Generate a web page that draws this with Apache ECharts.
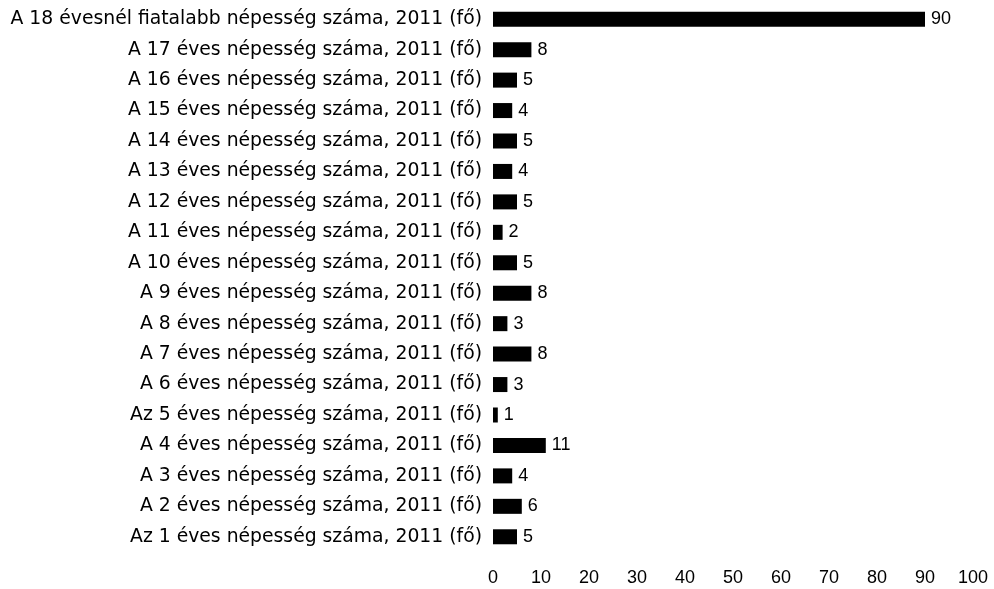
<!DOCTYPE html>
<html>
<head>
<meta charset="utf-8">
<script src="https://cdn.jsdelivr.net/npm/echarts@6/dist/echarts.min.js"></script>
<style>
  html, body { margin: 0; padding: 0; background: #fff; }
  #chart { width: 994px; height: 589px; }
</style>
</head>
<body>
<div id="chart"></div>
<script>
// Population of children by age, 2011 (persons)
const categories = [
  'A 18 évesnél fiatalabb népesség száma, 2011 (fő)',
  'A 17 éves népesség száma, 2011 (fő)',
  'A 16 éves népesség száma, 2011 (fő)',
  'A 15 éves népesség száma, 2011 (fő)',
  'A 14 éves népesség száma, 2011 (fő)',
  'A 13 éves népesség száma, 2011 (fő)',
  'A 12 éves népesség száma, 2011 (fő)',
  'A 11 éves népesség száma, 2011 (fő)',
  'A 10 éves népesség száma, 2011 (fő)',
  'A 9 éves népesség száma, 2011 (fő)',
  'A 8 éves népesség száma, 2011 (fő)',
  'A 7 éves népesség száma, 2011 (fő)',
  'A 6 éves népesség száma, 2011 (fő)',
  'Az 5 éves népesség száma, 2011 (fő)',
  'A 4 éves népesség száma, 2011 (fő)',
  'A 3 éves népesség száma, 2011 (fő)',
  'A 2 éves népesség száma, 2011 (fő)',
  'Az 1 éves népesség száma, 2011 (fő)'
];
const values = [90, 8, 5, 4, 5, 4, 5, 2, 5, 8, 3, 8, 3, 1, 11, 4, 6, 5];
const xTicks = [0, 10, 20, 30, 40, 50, 60, 70, 80, 90, 100];

const font = 'Liberation Sans, Arial, sans-serif';
const catFont = 'DejaVu Sans, Liberation Sans, sans-serif';
const chart = echarts.init(document.getElementById('chart'), null, { renderer: 'canvas' });
chart.setOption({
  animation: false,
  backgroundColor: '#ffffff',
  grid: { left: 493, right: 21, top: 4, bottom: 37, containLabel: false },
  xAxis: {
    type: 'value',
    min: xTicks[0],
    max: xTicks[xTicks.length - 1],
    interval: 10,
    axisLine: { show: false },
    axisTick: { show: false },
    splitLine: { show: false },
    axisLabel: { color: '#000', fontFamily: font, fontSize: 18, margin: 17 }
  },
  yAxis: {
    type: 'category',
    inverse: true,
    data: categories,
    axisLine: { show: false },
    axisTick: { show: false },
    axisLabel: { color: '#000', fontFamily: catFont, fontSize: 18.8, margin: 11 }
  },
  series: [{
    type: 'bar',
    data: values,
    barWidth: 15,
    itemStyle: { color: '#000' },
    label: {
      show: true,
      position: 'right',
      distance: 6,
      color: '#000',
      fontFamily: font,
      fontSize: 18
    }
  }]
});
</script>
</body>
</html>
